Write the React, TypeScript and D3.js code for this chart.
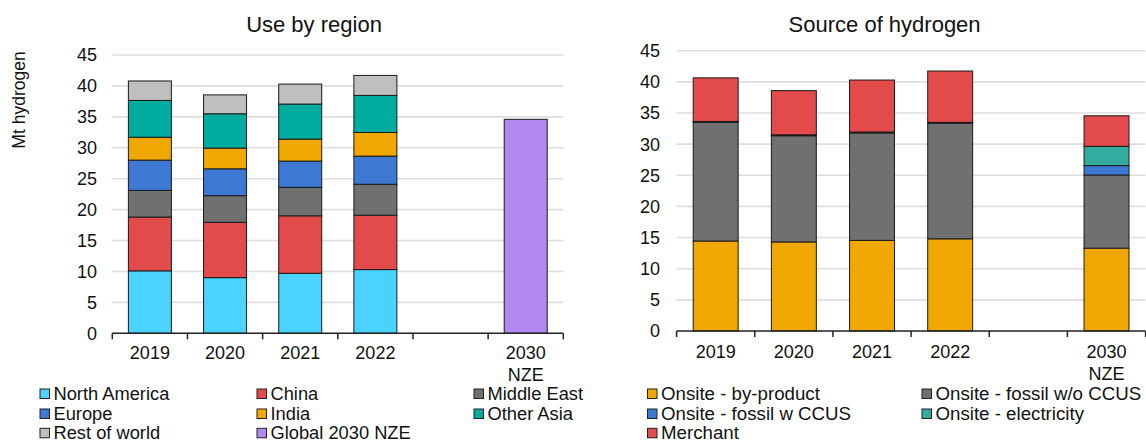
import React from "react";
import * as d3 from "d3";

const categories = ["2019", "2020", "2021", "2022", "", "2030 NZE"];
const yTicks = [0, 5, 10, 15, 20, 25, 30, 35, 40, 45];

// Left panel: use by region (Mt hydrogen)
const regionSeries = ["North America", "China", "Middle East", "Europe", "India", "Other Asia", "Rest of world", "Global 2030 NZE"];
const regionColors = ["#4bd3ff", "#e34b4b", "#6f7170", "#3d78d3", "#f0a800", "#00ac9f", "#bfbfbf", "#b088ef"];
const northAmerica = [10.1, 9.0, 9.7, 10.3, 0, 0];
const china = [8.7, 8.95, 9.3, 8.8, 0, 0];
const middleEast = [4.3, 4.3, 4.6, 5.0, 0, 0];
const europe = [4.9, 4.35, 4.25, 4.55, 0, 0];
const india = [3.7, 3.35, 3.55, 3.82, 0, 0];
const otherAsia = [5.95, 5.55, 5.67, 6.0, 0, 0];
const restOfWorld = [3.15, 3.05, 3.23, 3.23, 0, 0];
const global2030 = [0, 0, 0, 0, 0, 34.6];
const regionValues = [northAmerica, china, middleEast, europe, india, otherAsia, restOfWorld, global2030];

// Right panel: source of hydrogen
const sourceSeries = ["Onsite - by-product", "Onsite - fossil w/o CCUS", "Onsite - fossil w CCUS", "Onsite - electricity", "Merchant"];
const sourceColors = ["#f0a800", "#6f7170", "#3d78d3", "#33ab9f", "#e34b4b"];
const byProduct = [14.45, 14.3, 14.55, 14.8, 0, 13.3];
const fossilNoCcus = [19.05, 17.05, 17.25, 18.55, 0, 11.75];
const fossilCcus = [0.12, 0.12, 0.12, 0.12, 0, 1.5];
const electricity = [0.02, 0.02, 0.02, 0.02, 0, 3.1];
const merchant = [7.0, 7.1, 8.35, 8.25, 0, 4.9];
const sourceValues = [byProduct, fossilNoCcus, fossilCcus, electricity, merchant];

const FONT = "'Liberation Sans', Arial, sans-serif";

type PanelProps = {
  title: string;
  titleX: number;
  x0: number;
  x1: number;
  yTop: number;
  yZero: number;
  series: string[];
  values: number[][];
  colors: string[];
  labelX: number;
  xLabelY: number;
  barFrac: number;
};

function Panel(p: PanelProps) {
  const x = d3.scaleBand<string>().domain(categories.map((c, i) => String(i))).range([p.x0, p.x1]).padding(0);
  const y = d3.scaleLinear().domain([0, 45]).range([p.yZero, p.yTop]);
  const step = x.step();
  const barW = step * p.barFrac;
  const rows = categories.map((c, i) => {
    const o: any = { key: String(i) };
    p.series.forEach((s, j) => (o[s] = p.values[j][i]));
    return o;
  });
  const stacked = d3.stack<any>().keys(p.series)(rows);
  return (
    <g>
      <text x={p.titleX} y={32} textAnchor="middle" fontSize={22} fontFamily={FONT} fill="#111">
        {p.title}
      </text>
      {yTicks.map((t) => (
        <g key={t}>
          {t > 0 && <line x1={p.x0} x2={p.x1} y1={y(t)} y2={y(t)} stroke="#dedede" strokeWidth={1.6} />}
          <text x={p.labelX} y={y(t)} dy="0.36em" textAnchor="end" fontSize={18} fontFamily={FONT} fill="#111">
            {t}
          </text>
        </g>
      ))}
      {stacked.map((layer, j) =>
        layer.map((d, i) => {
          if (d[1] - d[0] <= 0) return null;
          const cx = (x(String(i)) as number) + step / 2;
          return (
            <rect
              key={j + "-" + i}
              x={cx - barW / 2}
              y={y(d[1])}
              width={barW}
              height={y(d[0]) - y(d[1])}
              fill={p.colors[j]}
              stroke="#1a1a1a"
              strokeWidth={1}
            />
          );
        })
      )}
      <line x1={p.x0} x2={p.x1} y1={p.yZero} y2={p.yZero} stroke="#222" strokeWidth={1.5} />
      {d3.range(categories.length + 1).map((i) => (
        <line key={i} x1={p.x0 + i * step} x2={p.x0 + i * step} y1={p.yZero} y2={p.yZero + 6} stroke="#222" strokeWidth={1.5} />
      ))}
      {categories.map((c, i) => {
        const cx = (x(String(i)) as number) + step / 2;
        const parts = c.split(" ");
        return (
          <text key={i} x={cx} y={p.xLabelY} textAnchor="middle" fontSize={18} fontFamily={FONT} fill="#111">
            {parts.map((t, k) => (
              <tspan key={k} x={cx} dy={k === 0 ? 0 : 22}>
                {t}
              </tspan>
            ))}
          </text>
        );
      })}
    </g>
  );
}

function Legend({ items, colors, cols, rowY, size }: { items: string[]; colors: string[]; cols: number[]; rowY: number[]; size: number }) {
  const ncol = cols.length;
  return (
    <g>
      {items.map((s, i) => {
        const cx = cols[i % ncol];
        const ry = rowY[Math.floor(i / ncol)];
        return (
          <g key={s}>
            <rect x={cx} y={ry - 4.5} width={9.5} height={9.5} fill={colors[i]} stroke="#222" strokeWidth={1} />
            <text x={cx + 13.5} y={ry} dy="0.35em" fontSize={size} fontFamily={FONT} fill="#111">
              {s}
            </text>
          </g>
        );
      })}
    </g>
  );
}

export default function App() {
  return (
    <svg width={1146} height={443} style={{ position: "absolute", left: 0, top: 0, background: "#fff" }}>
      <text
        transform="translate(25,100) rotate(-90)"
        textAnchor="middle"
        fontSize={17.5}
        fontFamily={FONT}
        fill="#111"
      >
        Mt hydrogen
      </text>
      <Panel
        title="Use by region"
        titleX={314}
        x0={112.3}
        x1={563.3}
        yTop={55}
        yZero={333.3}
        series={regionSeries}
        values={regionValues}
        colors={regionColors}
        labelX={97}
        xLabelY={359}
        barFrac={0.572}
      />
      <Panel
        title="Source of hydrogen"
        titleX={884.6}
        x0={676.6}
        x1={1145.6}
        yTop={50.7}
        yZero={331}
        series={sourceSeries}
        values={sourceValues}
        colors={sourceColors}
        labelX={660}
        xLabelY={357.5}
        barFrac={0.575}
      />
      <Legend items={regionSeries} colors={regionColors} cols={[40, 257, 474]} rowY={[393.5, 413.5, 432.8]} size={18.3} />
      <Legend items={sourceSeries} colors={sourceColors} cols={[647.5, 922]} rowY={[393.5, 413.5, 432.8]} size={18.7} />
    </svg>
  );
}
